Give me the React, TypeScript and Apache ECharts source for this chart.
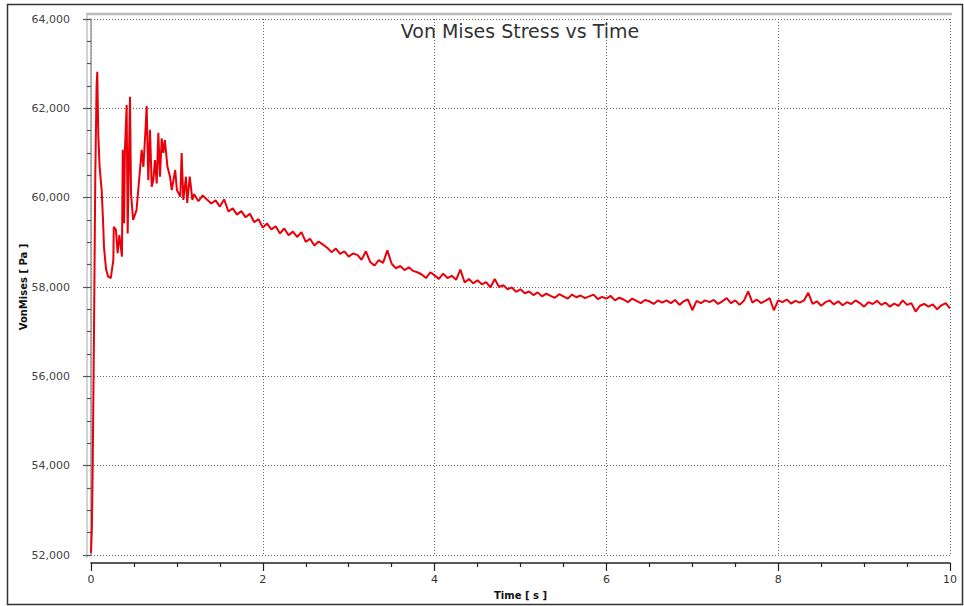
import React, { useEffect, useRef } from "react";
import * as echarts from "echarts";

const titleText = "Von Mises Stress vs Time";
const xName = "Time [ s ]";
const yName = "VonMises [ Pa ]";

const xTicks = [0, 2, 4, 6, 8, 10];
const yTicks = [52000, 54000, 56000, 58000, 60000, 62000, 64000];

const earlyTime = [
  0.0, 0.01, 0.02, 0.035, 0.05, 0.065, 0.073, 0.085, 0.1, 0.124,
  0.14, 0.151, 0.175, 0.2, 0.23, 0.26, 0.265, 0.29, 0.31, 0.33,
  0.36, 0.37, 0.385, 0.395, 0.415, 0.427, 0.454, 0.466, 0.49, 0.53,
  0.56, 0.59, 0.61, 0.63, 0.648, 0.667, 0.687, 0.707, 0.725, 0.745,
  0.765, 0.784, 0.803, 0.823, 0.842, 0.86, 0.89, 0.92, 0.94, 0.98,
  1.0, 1.04, 1.055, 1.075, 1.106, 1.12, 1.15, 1.18,
];
const earlyStress = [
  52050, 52600, 54000, 57000, 60500, 62500, 62820, 61400, 60700, 60170,
  59500, 58900, 58400, 58230, 58200, 58600, 59350, 59280, 58760, 59160,
  58680, 61070, 59430, 61070, 62075, 59200, 62260, 60100, 59500, 59720,
  60390, 61070, 60690, 61365, 62050, 60390, 61520, 60245, 60390, 60840,
  60320, 61450, 60470, 61330, 61000, 61290, 60690, 60470, 60170, 60620,
  60170, 60020, 61000, 59950, 60470, 59880, 60470, 59950,
];

const lateTime = [
  1.2, 1.25, 1.3, 1.35, 1.4, 1.45, 1.5, 1.55, 1.6, 1.65,
  1.7, 1.75, 1.8, 1.85, 1.9, 1.95, 2.0, 2.05, 2.1, 2.15,
  2.2, 2.25, 2.3, 2.35, 2.4, 2.45, 2.5, 2.55, 2.6, 2.65,
  2.7, 2.75, 2.8, 2.85, 2.9, 2.95, 3.0, 3.05, 3.1, 3.15,
  3.2, 3.25, 3.3, 3.35, 3.4, 3.45, 3.5, 3.55, 3.6, 3.65,
  3.7, 3.75, 3.8, 3.85, 3.9, 3.95, 4.0, 4.05, 4.1, 4.15,
  4.2, 4.25, 4.3, 4.35, 4.4, 4.45, 4.5, 4.55, 4.6, 4.65,
  4.7, 4.75, 4.8, 4.85, 4.9, 4.95, 5.0, 5.05, 5.1, 5.15,
  5.2, 5.25, 5.3, 5.35, 5.4, 5.45, 5.5, 5.55, 5.6, 5.65,
  5.7, 5.75, 5.8, 5.85, 5.9, 5.95, 6.0, 6.05, 6.1, 6.15,
  6.2, 6.25, 6.3, 6.35, 6.4, 6.45, 6.5, 6.55, 6.6, 6.65,
  6.7, 6.75, 6.8, 6.85, 6.9, 6.95, 7.0, 7.05, 7.1, 7.15,
  7.2, 7.25, 7.3, 7.35, 7.4, 7.45, 7.5, 7.55, 7.6, 7.65,
  7.7, 7.75, 7.8, 7.85, 7.9, 7.95, 8.0, 8.05, 8.1, 8.15,
  8.2, 8.25, 8.3, 8.35, 8.4, 8.45, 8.5, 8.55, 8.6, 8.65,
  8.7, 8.75, 8.8, 8.85, 8.9, 8.95, 9.0, 9.05, 9.1, 9.15,
  9.2, 9.25, 9.3, 9.35, 9.4, 9.45, 9.5, 9.55, 9.6, 9.65,
  9.7, 9.75, 9.8, 9.85, 9.9, 9.95, 10.0,
];
const lateStress = [
  60080, 59920, 60050, 59960, 59870, 59940, 59800, 59960, 59690, 59760,
  59620, 59700, 59560, 59640, 59450, 59520, 59330, 59420, 59290, 59360,
  59200, 59310, 59160, 59240, 59120, 59230, 59010, 59080, 58930, 59020,
  58950, 58880, 58780, 58860, 58740, 58800, 58680, 58750, 58720, 58610,
  58800, 58560, 58480, 58600, 58540, 58820, 58520, 58420, 58470, 58380,
  58440, 58360, 58330, 58280, 58200, 58330, 58260, 58180, 58300, 58200,
  58250, 58160, 58390, 58100, 58180, 58080, 58150, 58060, 58110, 57990,
  58180, 58000, 58040, 57950, 57990, 57890, 57950, 57860, 57900, 57820,
  57880, 57790, 57850, 57800, 57760, 57840, 57790, 57740, 57830, 57770,
  57810, 57750, 57790, 57830, 57730, 57780, 57740, 57800, 57700, 57760,
  57720, 57660, 57740, 57690, 57640, 57710, 57680, 57620, 57700, 57650,
  57700, 57640, 57710, 57600, 57680, 57720, 57480, 57690, 57640, 57700,
  57660, 57710, 57620, 57680, 57750, 57640, 57700, 57600, 57690, 57900,
  57650, 57720, 57640, 57690, 57750, 57480, 57700, 57660, 57720, 57630,
  57690, 57650, 57700, 57870, 57620, 57680, 57580, 57660, 57700, 57610,
  57680, 57590, 57660, 57620, 57700, 57640, 57560, 57660, 57620, 57690,
  57600, 57650, 57560, 57630, 57580, 57700, 57600, 57640, 57450, 57580,
  57620, 57560, 57610, 57500, 57590, 57640, 57520,
];

export default function App() {
  const ref = useRef<HTMLDivElement>(null);

  useEffect(() => {
    if (!ref.current) return;
    const chart = echarts.init(ref.current, undefined, { renderer: "svg" });

    const times = earlyTime.concat(lateTime);
    const values = earlyStress.concat(lateStress);
    const data = times.map((t, i) => [t, values[i]]);

    const font = "DejaVu Sans, Verdana, sans-serif";

    chart.setOption({
      animation: false,
      backgroundColor: "#ffffff",
      title: {
        text: titleText,
        left: 520,
        top: 21,
        padding: 0,
        textAlign: "center",
        textStyle: { fontSize: 19, fontWeight: "normal", color: "#333", fontFamily: font },
      },
      grid: { left: 91, right: 14, top: 19, bottom: 51, containLabel: false },
      xAxis: {
        type: "value",
        min: xTicks[0],
        max: xTicks[xTicks.length - 1],
        interval: 2,
        offset: 8,
        name: xName,
        nameLocation: "middle",
        nameGap: 27,
        nameMoveOverlap: false,
        nameTextStyle: { fontSize: 10, fontWeight: "bold", color: "#111", fontFamily: font },
        axisLine: { show: true, lineStyle: { color: "#222", width: 1.5 } },
        axisTick: { show: true, length: 8, lineStyle: { color: "#222", width: 1.2 } },
        minorTick: { show: true, splitNumber: 4, length: 4, lineStyle: { color: "#222", width: 1.2 } },
        axisLabel: { margin: 11, fontSize: 11, color: "#333", fontFamily: font },
        splitLine: { show: true, lineStyle: { color: "#666", type: [1, 2], width: 1 } },
      },
      yAxis: {
        type: "value",
        min: yTicks[0],
        max: yTicks[yTicks.length - 1],
        interval: 2000,
        offset: 8,
        name: yName,
        nameLocation: "middle",
        nameGap: 55,
        nameMoveOverlap: false,
        nameTextStyle: { fontSize: 10, fontWeight: "bold", color: "#111", fontFamily: font },
        axisLine: { show: true, lineStyle: { color: "#999", width: 1.5 } },
        axisTick: { show: true, length: 8, lineStyle: { color: "#555", width: 1.2 } },
        minorTick: { show: true, splitNumber: 4, length: 4, lineStyle: { color: "#555", width: 1.2 } },
        axisLabel: {
          margin: 13,
          fontSize: 11,
          color: "#444",
          fontFamily: font,
          formatter: (v: number) => v.toLocaleString("en-US"),
        },
        splitLine: { show: true, lineStyle: { color: "#666", type: [1, 2], width: 1 } },
      },
      graphic: [
        {
          type: "rect",
          silent: true,
          shape: { x: 7.5, y: 4.5, width: 955, height: 600 },
          style: { fill: "none", stroke: "#333", lineWidth: 1.5 },
        },
        {
          type: "line",
          silent: true,
          shape: { x1: 86, y1: 14, x2: 952, y2: 14 },
          style: { stroke: "#bbb", lineWidth: 2.5 },
        },
        {
          type: "line",
          silent: true,
          shape: { x1: 87, y1: 14, x2: 87, y2: 558 },
          style: { stroke: "#c4c4c4", lineWidth: 1.5 },
        },
      ],
      series: [
        {
          type: "line",
          data,
          showSymbol: false,
          symbol: "none",
          lineStyle: { color: "#e8000a", width: 2 },
          z: 5,
        },
      ],
    });

    return () => chart.dispose();
  }, []);

  return (
    <div
      ref={ref}
      style={{ position: "fixed", left: 0, top: 0, width: 964, height: 606 }}
    />
  );
}
